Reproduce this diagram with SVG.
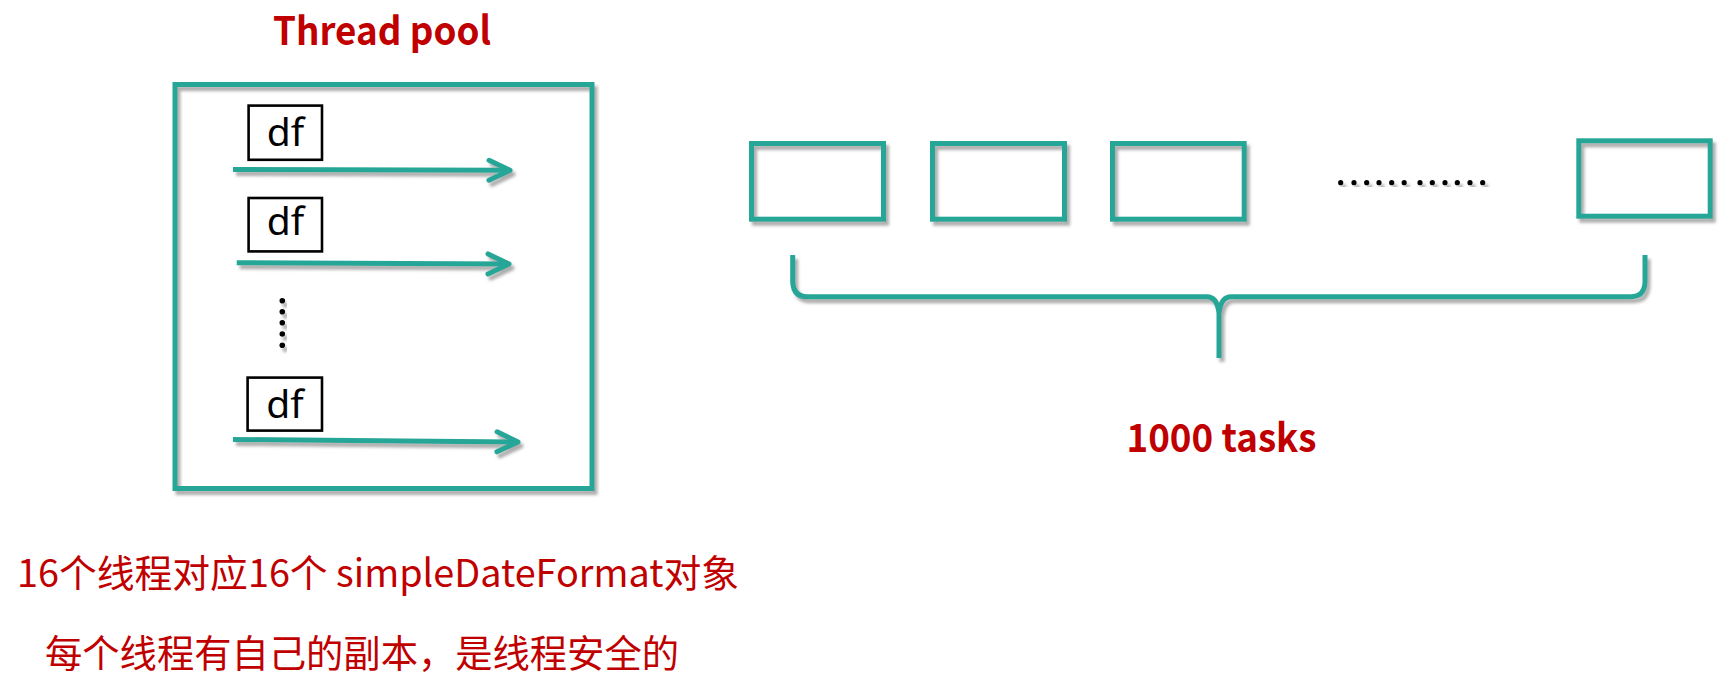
<svg xmlns="http://www.w3.org/2000/svg" width="1726" height="685" viewBox="0 0 1726 685">
<style>
.teal{fill:none;stroke:#27A697;stroke-width:5}
.df{fill:#fff;stroke:#000;stroke-width:2.6}
.dft{font-family:"Noto Sans","Open Sans",sans-serif;font-size:39px;fill:#000;text-anchor:middle}
.red{font-family:"Noto Sans CJK SC","Noto Sans",sans-serif;fill:#C00000}
.title{font-weight:bold;font-size:39px;text-anchor:middle}
.note{font-size:38px;font-weight:normal}
.dot{fill:#000}
</style>
<defs>
<filter id="sh" x="-10%" y="-10%" width="130%" height="140%">
<feDropShadow dx="3" dy="4" stdDeviation="1.5" flood-color="#777" flood-opacity="0.6"/>
</filter>
<marker id="ah" markerUnits="userSpaceOnUse" viewBox="-26 -14 30 28" refX="0" refY="0" markerWidth="30" markerHeight="28" orient="auto" overflow="visible">
<path d="M-21,-10 L0,0 L-21,10" fill="none" stroke="#27A697" stroke-width="5" stroke-linecap="round" stroke-linejoin="round"/>
</marker>
</defs>
<rect width="1726" height="685" fill="#fff"/>

<g id="title"><text class="red title" x="382" y="45" textLength="218" lengthAdjust="spacingAndGlyphs">Thread pool</text></g>

<g id="pool" filter="url(#sh)">
<rect class="teal" x="175" y="84.5" width="417" height="404" stroke-width="5.5"/>
</g>

<g id="df1"><rect class="df" x="248.6" y="105.6" width="73.4" height="54.2"/><text class="dft" x="285.5" y="146">df</text></g>
<g id="df2"><rect class="df" x="248.6" y="198" width="73.4" height="53.4"/><text class="dft" x="285.5" y="235">df</text></g>
<g id="df3"><rect class="df" x="247.6" y="377.6" width="74.4" height="53"/><text class="dft" x="285" y="418">df</text></g>

<g id="vdots" filter="url(#sh)">
<circle class="dot" cx="282.3" cy="300.7" r="2.8"/>
<circle class="dot" cx="282.3" cy="311.7" r="2.8"/>
<circle class="dot" cx="282.3" cy="322.8" r="2.8"/>
<circle class="dot" cx="282.3" cy="334" r="2.8"/>
<circle class="dot" cx="282.3" cy="345.3" r="2.8"/>
</g>

<g id="task1" filter="url(#sh)"><rect class="teal" x="751.5" y="143.5" width="132" height="75.7"/></g>
<g id="task2" filter="url(#sh)"><rect class="teal" x="932.5" y="143.5" width="132" height="75.7"/></g>
<g id="task3" filter="url(#sh)"><rect class="teal" x="1112.5" y="143.5" width="131.7" height="75.7"/></g>
<g id="task4" filter="url(#sh)"><rect class="teal" x="1578.8" y="140.8" width="131.4" height="75.4"/></g>

<g id="hdots" filter="url(#sh)">
<circle class="dot" cx="1340.7" cy="182.7" r="2.6"/>
<circle class="dot" cx="1354" cy="182.7" r="2.6"/>
<circle class="dot" cx="1366.7" cy="182.7" r="2.6"/>
<circle class="dot" cx="1379" cy="182.7" r="2.6"/>
<circle class="dot" cx="1391.7" cy="182.7" r="2.6"/>
<circle class="dot" cx="1404.2" cy="182.7" r="2.6"/>
<circle class="dot" cx="1420" cy="182.7" r="2.6"/>
<circle class="dot" cx="1432.3" cy="182.7" r="2.6"/>
<circle class="dot" cx="1445" cy="182.7" r="2.6"/>
<circle class="dot" cx="1457.3" cy="182.7" r="2.6"/>
<circle class="dot" cx="1470" cy="182.7" r="2.6"/>
<circle class="dot" cx="1482.7" cy="182.7" r="2.6"/>
</g>

<g id="connectors" filter="url(#sh)">
<path class="teal" d="M233,169.5 L510,170.3" marker-end="url(#ah)"/>
<path class="teal" d="M236.7,262.7 L509,264" marker-end="url(#ah)"/>
<path class="teal" d="M233,439.5 L518,442" marker-end="url(#ah)"/>
<path class="teal" stroke-linecap="butt" d="M792.7,255 V282 Q793.5,296.7 807,296.7 H1207 Q1217,296.7 1219,313 V358 M1219,313 Q1221,296.7 1231,296.7 H1631 Q1644.5,296.7 1645,282 V255"/>
</g>

<g id="label-tasks"><text class="red title" x="1221.5" y="451.5" textLength="190" lengthAdjust="spacingAndGlyphs">1000 tasks</text></g>

<g id="notes">
<text class="red note" x="17" y="586.7" textLength="722" lengthAdjust="spacingAndGlyphs">16个线程对应16个 simpleDateFormat对象</text>
<text class="red note" x="45" y="667" textLength="634" lengthAdjust="spacingAndGlyphs">每个线程有自己的副本，是线程安全的</text>
</g>
</svg>
